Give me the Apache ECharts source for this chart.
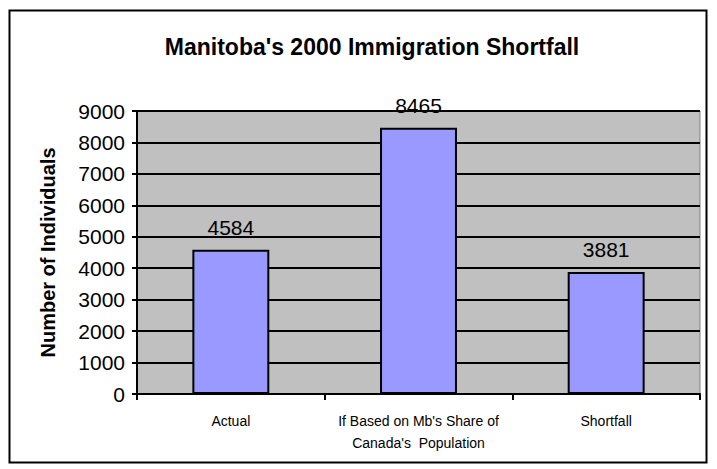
<!DOCTYPE html>
<html>
<head>
<meta charset="utf-8">
<script src="https://cdn.jsdelivr.net/npm/echarts@6/dist/echarts.min.js"></script>
<style>
  html, body { margin: 0; padding: 0; background: #fff; }
  #chart { width: 717px; height: 469px; }
</style>
</head>
<body>
<div id="chart"></div>
<script>
var categories = ['Actual', "If Based on Mb's Share of\nCanada's  Population", 'Shortfall'];
var values = [4584, 8465, 3881];

var chart = echarts.init(document.getElementById('chart'), null, { renderer: 'svg' });

var option = {
    backgroundColor: '#fff',
    animation: false,
    textStyle: { fontFamily: 'Liberation Sans, Arial, sans-serif' },
    title: {
        text: "Manitoba's 2000 Immigration Shortfall",
        left: 367,
        top: 30,
        textAlign: 'center',
        textStyle: { fontSize: 23, fontWeight: 'bold', color: '#000' }
    },
    graphic: [
        {
            type: 'rect',
            shape: { x: 9.5, y: 10.5, width: 697, height: 452 },
            style: { fill: 'none', stroke: '#000', lineWidth: 2 },
            z: -10
        }
    ],
    grid: {
        left: 137,
        top: 111,
        width: 563,
        height: 283,
        show: true,
        backgroundColor: '#c0c0c0',
        borderColor: '#808080',
        borderWidth: 1
    },
    xAxis: {
        type: 'category',
        data: categories,
        axisLine: { lineStyle: { color: '#000', width: 2 } },
        axisTick: { show: true, interval: 0, length: 6, lineStyle: { color: '#000', width: 2 } },
        axisLabel: { interval: 0, hideOverlap: false, fontSize: 14, color: '#000', margin: 16, lineHeight: 22 }
    },
    yAxis: {
        type: 'value',
        min: 0,
        max: 9000,
        interval: 1000,
        name: 'Number of Individuals',
        nameLocation: 'middle',
        nameGap: 79,
        nameTextStyle: { fontSize: 20, fontWeight: 'bold', color: '#000' },
        axisLine: { show: true, lineStyle: { color: '#000', width: 2 } },
        axisTick: { show: true, length: 5, lineStyle: { color: '#000', width: 2 } },
        axisLabel: {
            fontSize: 21,
            color: '#000',
            margin: 12,
            formatter: function (v) { return String(v); }
        },
        splitLine: { show: true, lineStyle: { color: '#000', width: 2 } }
    },
    series: [
        {
            type: 'bar',
            data: values,
            barWidth: '41%',
            itemStyle: { color: '#9999ff', borderColor: '#000', borderWidth: 2 },
            label: {
                show: true,
                position: 'top',
                distance: 12,
                fontSize: 21,
                color: '#000'
            }
        }
    ]
};

chart.setOption(option);
</script>
</body>
</html>
